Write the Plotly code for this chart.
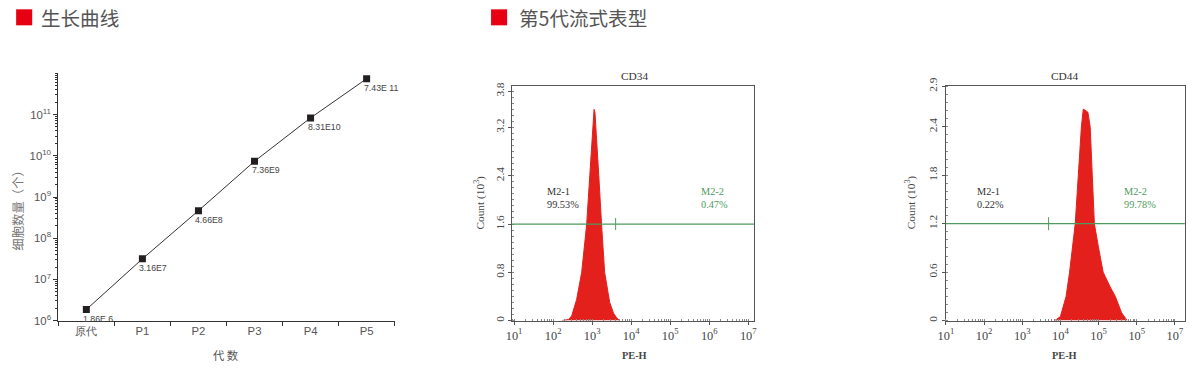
import math
import plotly.graph_objects as go

# Observed rendering: the body keeps an 8px margin and the photo is scaled
# by 1202/1218 x 388/404; target pixel positions are mapped back accordingly.
OFF = 8
W, H = 1202, 388
SX, SY = 1218 / 1202, 404 / 388
FS = 1.03  # font compensation

# ---------------- data ----------------
passages = ["原代", "P1", "P2", "P3", "P4", "P5"]
cell_counts = [1.86e6, 3.16e7, 4.66e8, 7.36e9, 8.31e10, 7.43e11]
count_labels = ["1.86E 6", "3.16E7", "4.66E8", "7.36E9", "8.31E10", "7.43E 11"]
growth_yticks = [1e6, 1e7, 1e8, 1e9, 1e10, 1e11]
growth_yticktext = ["10<sup>6</sup>", "10<sup>7</sup>", "10<sup>8</sup>", "10<sup>9</sup>",
                    "10<sup>10</sup>", "10<sup>11</sup>"]

cd34_pe = [170, 250, 300, 400, 540, 620, 725, 870, 1000, 1120, 1180, 1300, 1480,
           1740, 2090, 2500, 2820, 3550, 4200, 5000]
cd34_count = [0, 0.02, 0.08, 0.35, 0.8, 1.2, 1.6, 2.4, 3.0, 3.5, 3.45, 2.9, 2.4,
              1.6, 0.8, 0.5, 0.3, 0.12, 0.05, 0]
cd34_gate_y = 1.6
cd34_gate_x = 4000
cd34_yticks = [0, 0.8, 1.6, 2.4, 3.2, 3.8]
cd34_stats = ["99.53%", "0.47%"]

cd44_pe = [7080, 10000, 14100, 17400, 24500, 29500, 35500, 39800, 45700, 52500,
           60300, 69200, 77600, 100000, 132000, 200000, 275000, 398000, 562000]
cd44_count = [0, 0.05, 0.3, 0.6, 1.2, 1.8, 2.4, 2.62, 2.6, 2.58, 2.4, 1.8, 1.2,
              0.9, 0.6, 0.42, 0.3, 0.1, 0]
cd44_gate_y = 1.2
cd44_gate_x = 4900
cd44_yticks = [0, 0.6, 1.2, 1.8, 2.4, 2.9]
cd44_stats = ["0.22%", "99.78%"]

pe_ticks = [1e1, 1e2, 1e3, 1e4, 1e5, 1e6, 1e7]
cd34_xticktext = ["10<sup>1</sup>", "10<sup>2</sup>", "10<sup>3</sup>", "10<sup>4</sup>",
                  "10<sup>5</sup>", "10<sup>6</sup>", "10<sup>7</sup>"]
cd44_xticktext = ["10<sup>1</sup>", "10<sup>2</sup>", "10<sup>3</sup>", "10<sup>4</sup>",
                  "10<sup>5</sup>", "10<sup>5</sup>", "10<sup>7</sup>"]


def px(x):
    return (x * SX - OFF) / W


def py(y):
    return 1 - (y * SY - OFF) / H


def fs(s):
    return round(s * FS, 2)


SANS = "Liberation Sans, Arial, sans-serif"
CJK = "Noto Sans CJK SC, sans-serif"
SERIF = "Liberation Serif, Times New Roman, serif"
RED = "#e4201c"
GREEN = "#4f9a5e"

fig = go.Figure()

# ---------------- growth curve ----------------
fig.add_trace(go.Scatter(
    x=passages, y=cell_counts, mode="lines+markers",
    line=dict(color="#333333", width=1),
    marker=dict(symbol="square", size=7, color="#231f20"),
    xaxis="x", yaxis="y", showlegend=False, hoverinfo="skip"))

annotations = []
for p, v, t in zip(passages, cell_counts, count_labels):
    annotations.append(dict(x=p, y=math.log10(v), xref="x", yref="y",
                            text=t, showarrow=False, xanchor="left", yanchor="top",
                            xshift=-5, yshift=-2,
                            font=dict(family=SANS, size=fs(8.5), color="#444444")))

# ---------------- CD34 ----------------
fig.add_trace(go.Scatter(
    x=cd34_pe, y=cd34_count, mode="lines", fill="tozeroy",
    line=dict(color=RED, width=1), fillcolor=RED,
    xaxis="x2", yaxis="y2", showlegend=False, hoverinfo="skip"))
fig.add_trace(go.Scatter(
    x=[cd34_gate_x, cd34_gate_x], y=[cd34_gate_y - 0.1, cd34_gate_y + 0.1], mode="lines",
    line=dict(color=GREEN, width=1), xaxis="x2", yaxis="y2", showlegend=False,
    hoverinfo="skip"))

# ---------------- CD44 ----------------
fig.add_trace(go.Scatter(
    x=cd44_pe, y=cd44_count, mode="lines", fill="tozeroy",
    line=dict(color=RED, width=1), fillcolor=RED,
    xaxis="x3", yaxis="y3", showlegend=False, hoverinfo="skip"))
fig.add_trace(go.Scatter(
    x=[cd44_gate_x, cd44_gate_x], y=[cd44_gate_y - 0.08, cd44_gate_y + 0.08], mode="lines",
    line=dict(color=GREEN, width=1), xaxis="x3", yaxis="y3", showlegend=False,
    hoverinfo="skip"))

# ---------------- axes ----------------
grey_tick = dict(family=SANS, size=fs(11), color="#555555")
fig.update_layout(
    xaxis=dict(domain=[px(58), px(393)], anchor="y", type="category",
               range=[-0.5, 5.5], showline=True, linecolor="#333333", linewidth=1,
               ticks="outside", tickson="boundaries", ticklen=4, tickcolor="#333333",
               tickfont=grey_tick, showgrid=False, zeroline=False),
    yaxis=dict(domain=[py(319), py(72)], anchor="x", type="log", range=[6, 12],
               tickvals=growth_yticks, ticktext=growth_yticktext,
               showline=True, linecolor="#333333", linewidth=1,
               ticks="outside", ticklen=4, tickcolor="#333333",
               minor=dict(ticks="outside", ticklen=2, dtick="D1", tickcolor="#333333"),
               tickfont=grey_tick, showgrid=False, zeroline=False),
)

flow_xtick = dict(family=SERIF, size=fs(12), color="#444444")
flow_ytick = dict(family=SERIF, size=fs(11), color="#444444")
for xa, ya, dom_x, rng, xtt, yt, yr in [
    ("xaxis2", "yaxis2", [px(510), px(751)], [0.95, 7.15], cd34_xticktext, cd34_yticks, 3.88),
    ("xaxis3", "yaxis3", [px(942), px(1180)], [1.0, 7.26], cd44_xticktext, cd44_yticks, 2.9),
]:
    xn = "x" + xa[-1]
    yn = "y" + ya[-1]
    fig.update_layout({
        xa: dict(domain=dom_x, anchor=yn, type="log", range=rng,
                 tickvals=pe_ticks, ticktext=xtt,
                 showline=True, mirror=True, linecolor="#555555", linewidth=1.2,
                 ticks="outside", ticklen=3, tickcolor="#555555",
                 minor=dict(ticks="inside", ticklen=2, dtick="D1", tickcolor="#888888"),
                 tickfont=flow_xtick, showgrid=False, zeroline=False),
        ya: dict(domain=[py(319), py(85)], anchor=xn, range=[0, yr],
                 tickvals=yt, tickangle=-90,
                 showline=True, mirror=True, linecolor="#555555", linewidth=1.2,
                 ticks="outside", ticklen=3, tickcolor="#555555",
                 minor=dict(ticks="inside", ticklen=2, dtick=0.1, tickcolor="#888888"),
                 tickfont=flow_ytick, showgrid=False, zeroline=False),
    })

# ---------------- text ----------------
annotations += [
    dict(x=px(39), y=py(16), xref="paper", yref="paper", text="生长曲线",
         showarrow=False, xanchor="left", yanchor="middle",
         font=dict(family=CJK, size=fs(19), color="#555555")),
    dict(x=px(515), y=py(16), xref="paper", yref="paper", text="第5代流式表型",
         showarrow=False, xanchor="left", yanchor="middle",
         font=dict(family=CJK, size=fs(19), color="#555555")),
    dict(x=px(17), y=py(206), xref="paper", yref="paper", text="细胞数量（个）",
         showarrow=False, textangle=-90, xanchor="center", yanchor="middle",
         font=dict(family=CJK, size=fs(12), color="#777777")),
    dict(x=px(225), y=py(353), xref="paper", yref="paper", text="代 数",
         showarrow=False, xanchor="center", yanchor="middle",
         font=dict(family=CJK, size=fs(11), color="#555555")),
]

for cx, title, ax_x, m1x, m2x, stats in [
    (632, "CD34", 478, 543, 696, cd34_stats),
    (1060, "CD44", 907, 971, 1117, cd44_stats),
]:
    annotations += [
        dict(x=px(cx), y=py(75), xref="paper", yref="paper", text=title,
             showarrow=False, xanchor="center", yanchor="middle",
             font=dict(family=SERIF, size=fs(11), color="#333333")),
        dict(x=px(cx), y=py(354), xref="paper", yref="paper", text="<b>PE-H</b>",
             showarrow=False, xanchor="center", yanchor="middle",
             font=dict(family=SERIF, size=fs(10), color="#444444")),
        dict(x=px(ax_x), y=py(201), xref="paper", yref="paper", text="Count (10<sup>3</sup>)",
             showarrow=False, textangle=-90, xanchor="center", yanchor="middle",
             font=dict(family=SERIF, size=fs(11), color="#444444")),
        dict(x=px(m1x), y=py(196), xref="paper", yref="paper",
             text="M2-1<br>" + stats[0], align="left",
             showarrow=False, xanchor="left", yanchor="middle",
             font=dict(family=SERIF, size=fs(10), color="#333333")),
        dict(x=px(m2x), y=py(196), xref="paper", yref="paper",
             text="M2-2<br>" + stats[1], align="left",
             showarrow=False, xanchor="left", yanchor="middle",
             font=dict(family=SERIF, size=fs(10), color=GREEN)),
    ]

shapes = [
    dict(type="rect", xref="paper", yref="paper", x0=px(16), x1=px(32), y0=py(24), y1=py(8),
         fillcolor="#e60012", line=dict(width=0)),
    dict(type="rect", xref="paper", yref="paper", x0=px(489), x1=px(505), y0=py(24), y1=py(8),
         fillcolor="#e60012", line=dict(width=0)),
    dict(type="line", xref="x2 domain", yref="y2", x0=0, x1=1, y0=cd34_gate_y, y1=cd34_gate_y,
         line=dict(color=GREEN, width=1.3)),
    dict(type="line", xref="x3 domain", yref="y3", x0=0, x1=1, y0=cd44_gate_y, y1=cd44_gate_y,
         line=dict(color=GREEN, width=1.3)),
]

fig.update_layout(
    width=W, height=H, margin=dict(l=0, r=0, t=0, b=0),
    paper_bgcolor="white", plot_bgcolor="rgba(0,0,0,0)",
    annotations=annotations, shapes=shapes, showlegend=False,
)

fig.write_html("out.html", config={"displayModeBar": False})
